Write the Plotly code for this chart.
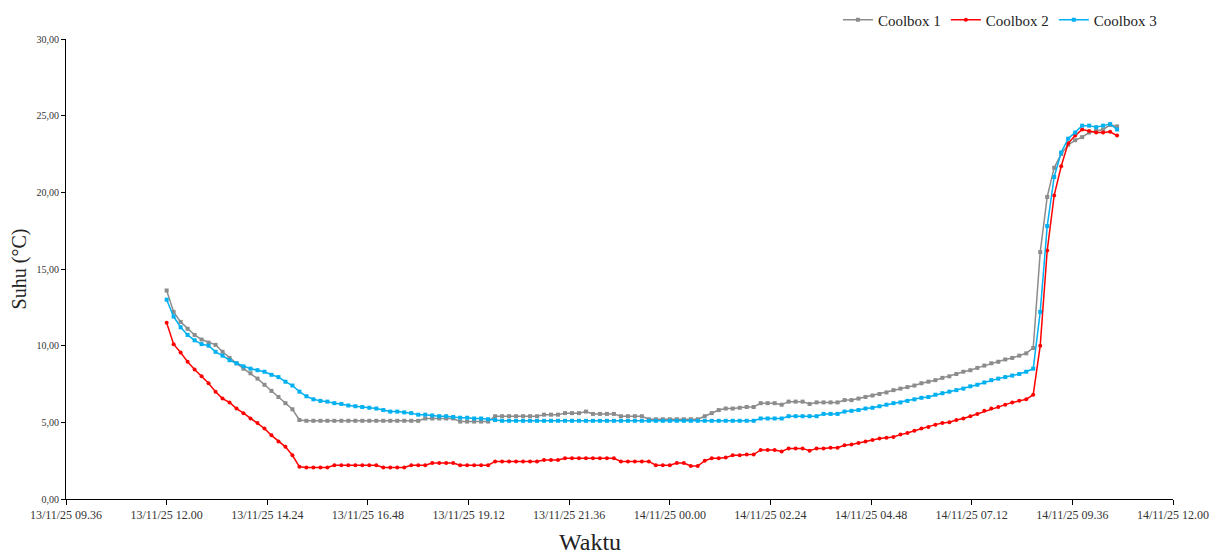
import pandas as pd
import plotly.graph_objects as go

# ---- data -------------------------------------------------------------
start_time = "2025-11-13 12:00"
interval = "10min"

coolbox1 = [
    13.6, 12.2, 11.55, 11.1, 10.7, 10.4, 10.2, 10.05, 9.6, 9.2,
    8.85, 8.5, 8.2, 7.85, 7.45, 7.05, 6.65, 6.25, 5.85, 5.15,
    5.1, 5.1, 5.1, 5.1, 5.1, 5.1, 5.1, 5.1, 5.1, 5.1,
    5.1, 5.1, 5.1, 5.1, 5.1, 5.1, 5.1, 5.25, 5.25, 5.25,
    5.25, 5.25, 5.05, 5.05, 5.05, 5.05, 5.05, 5.4, 5.4, 5.4,
    5.4, 5.4, 5.4, 5.4, 5.5, 5.5, 5.5, 5.6, 5.6, 5.6,
    5.7, 5.55, 5.55, 5.55, 5.55, 5.4, 5.4, 5.4, 5.4, 5.2,
    5.2, 5.2, 5.2, 5.2, 5.2, 5.2, 5.2, 5.4, 5.6, 5.8,
    5.9, 5.9, 5.95, 6.0, 6.0, 6.25, 6.25, 6.25, 6.15, 6.35,
    6.35, 6.35, 6.2, 6.3, 6.3, 6.3, 6.3, 6.45, 6.45, 6.55,
    6.65, 6.75, 6.85, 6.95, 7.1, 7.2, 7.3, 7.4, 7.55, 7.65,
    7.75, 7.9, 8.0, 8.15, 8.3, 8.4, 8.55, 8.7, 8.85, 8.95,
    9.1, 9.2, 9.35, 9.5, 9.85, 16.1, 19.7, 21.6, 22.5, 23.1,
    23.4, 23.6, 23.9, 24.0, 24.1, 24.4, 24.3,
]

coolbox2 = [
    11.5, 10.1, 9.55, 8.95, 8.45, 8.0, 7.55, 7.0, 6.55, 6.3,
    5.9, 5.6, 5.25, 4.95, 4.6, 4.15, 3.75, 3.4, 2.85, 2.1,
    2.05, 2.05, 2.05, 2.05, 2.2, 2.2, 2.2, 2.2, 2.2, 2.2,
    2.2, 2.05, 2.05, 2.05, 2.05, 2.2, 2.2, 2.2, 2.35, 2.35,
    2.35, 2.35, 2.2, 2.2, 2.2, 2.2, 2.2, 2.45, 2.45, 2.45,
    2.45, 2.45, 2.45, 2.45, 2.55, 2.55, 2.55, 2.65, 2.65, 2.65,
    2.65, 2.65, 2.65, 2.65, 2.65, 2.45, 2.45, 2.45, 2.45, 2.45,
    2.2, 2.2, 2.2, 2.35, 2.35, 2.15, 2.15, 2.5, 2.65, 2.65,
    2.7, 2.85, 2.85, 2.9, 2.9, 3.2, 3.2, 3.2, 3.1, 3.3,
    3.3, 3.3, 3.15, 3.3, 3.3, 3.35, 3.35, 3.5, 3.55, 3.65,
    3.75, 3.85, 3.95, 4.0, 4.05, 4.2, 4.3, 4.45, 4.6, 4.7,
    4.85, 4.95, 5.0, 5.15, 5.25, 5.4, 5.55, 5.75, 5.9, 6.0,
    6.15, 6.3, 6.4, 6.5, 6.8, 10.0, 16.2, 19.8, 21.7, 23.2,
    23.7, 24.1, 24.0, 23.9, 23.9, 23.95, 23.7,
]

coolbox3 = [
    13.0, 11.9, 11.2, 10.7, 10.35, 10.1, 10.0, 9.6, 9.35, 9.05,
    8.85, 8.65, 8.5, 8.4, 8.3, 8.1, 7.95, 7.65, 7.4, 7.0,
    6.7, 6.5, 6.4, 6.35, 6.25, 6.2, 6.1, 6.05, 6.0, 5.95,
    5.9, 5.8, 5.7, 5.7, 5.65, 5.6, 5.5, 5.5, 5.45, 5.4,
    5.4, 5.35, 5.3, 5.3, 5.25, 5.25, 5.2, 5.15, 5.1, 5.1,
    5.1, 5.1, 5.1, 5.1, 5.1, 5.1, 5.1, 5.1, 5.1, 5.1,
    5.1, 5.1, 5.1, 5.1, 5.1, 5.1, 5.1, 5.1, 5.1, 5.1,
    5.1, 5.1, 5.1, 5.1, 5.1, 5.1, 5.1, 5.1, 5.1, 5.1,
    5.1, 5.1, 5.1, 5.1, 5.1, 5.25, 5.25, 5.25, 5.25, 5.4,
    5.4, 5.4, 5.4, 5.4, 5.55, 5.55, 5.55, 5.7, 5.75, 5.8,
    5.9, 5.95, 6.05, 6.15, 6.25, 6.3, 6.4, 6.5, 6.6, 6.65,
    6.8, 6.9, 7.0, 7.1, 7.2, 7.35, 7.45, 7.6, 7.75, 7.85,
    7.95, 8.05, 8.15, 8.3, 8.5, 12.2, 17.8, 21.0, 22.6, 23.5,
    23.9, 24.35, 24.35, 24.25, 24.35, 24.45, 24.1,
]

series_names = ["Coolbox 1", "Coolbox 2", "Coolbox 3"]
series_colors = ["#8c8c8c", "#ff0000", "#00b0f0"]
series_symbols = ["square", "circle", "square"]

x_tick_start = "2025-11-13 09:36"
x_tick_step = "144min"
x_tick_count = 12
y_ticks = [0, 5, 10, 15, 20, 25, 30]

# ---- figure -----------------------------------------------------------
times = pd.date_range(start_time, periods=len(coolbox1), freq=interval)
tick_times = pd.date_range(x_tick_start, periods=x_tick_count, freq=x_tick_step)
tick_text = [t.strftime("%d/%m/%y %H.%M") for t in tick_times]

serif = "Liberation Serif, Times New Roman, serif"

fig = go.Figure()
for name, vals, col, sym in zip(series_names, [coolbox1, coolbox2, coolbox3],
                                series_colors, series_symbols):
    fig.add_trace(go.Scatter(
        x=times, y=vals, name=name, mode="lines+markers",
        line=dict(color=col, width=1.5),
        marker=dict(color=col, size=4, symbol=sym),
    ))

fig.update_layout(
    width=1214, height=548,
    margin=dict(l=58, r=49, t=31, b=57),
    paper_bgcolor="white", plot_bgcolor="white",
    separators=",.",
    font=dict(family=serif, color="#222222"),
    showlegend=True,
    legend=dict(
        orientation="h", x=0.99, xanchor="right",
        yref="container", y=0.978, yanchor="middle",
        font=dict(family=serif, size=15, color="#222222"),
        itemwidth=30, bgcolor="rgba(0,0,0,0)",
    ),
    annotations=[dict(
        text="Waktu", xref="paper", yref="paper", x=0.473, y=-0.093,
        xanchor="center", yanchor="middle", showarrow=False,
        font=dict(family=serif, size=24, color="#222222"),
    )],
)

fig.update_xaxes(
    range=[tick_times[0], tick_times[-1]],
    tickvals=tick_times, ticktext=tick_text,
    tickfont=dict(family=serif, size=12, color="#333333"),
    showgrid=False, zeroline=False,
    showline=True, linecolor="black", linewidth=1,
    ticks="outside", ticklen=5, tickcolor="black",
    automargin=False,
)
fig.update_yaxes(
    range=[0, 30], tickvals=y_ticks, tickformat=".2f",
    tickfont=dict(family=serif, size=10, color="#333333"),
    showgrid=False, zeroline=False,
    showline=True, linecolor="black", linewidth=1,
    ticks="outside", ticklen=4, tickcolor="black",
    title=dict(text="Suhu (°C)", font=dict(family=serif, size=20, color="#222222"),
               standoff=6),
    automargin=False,
)

fig.write_html("out.html")
